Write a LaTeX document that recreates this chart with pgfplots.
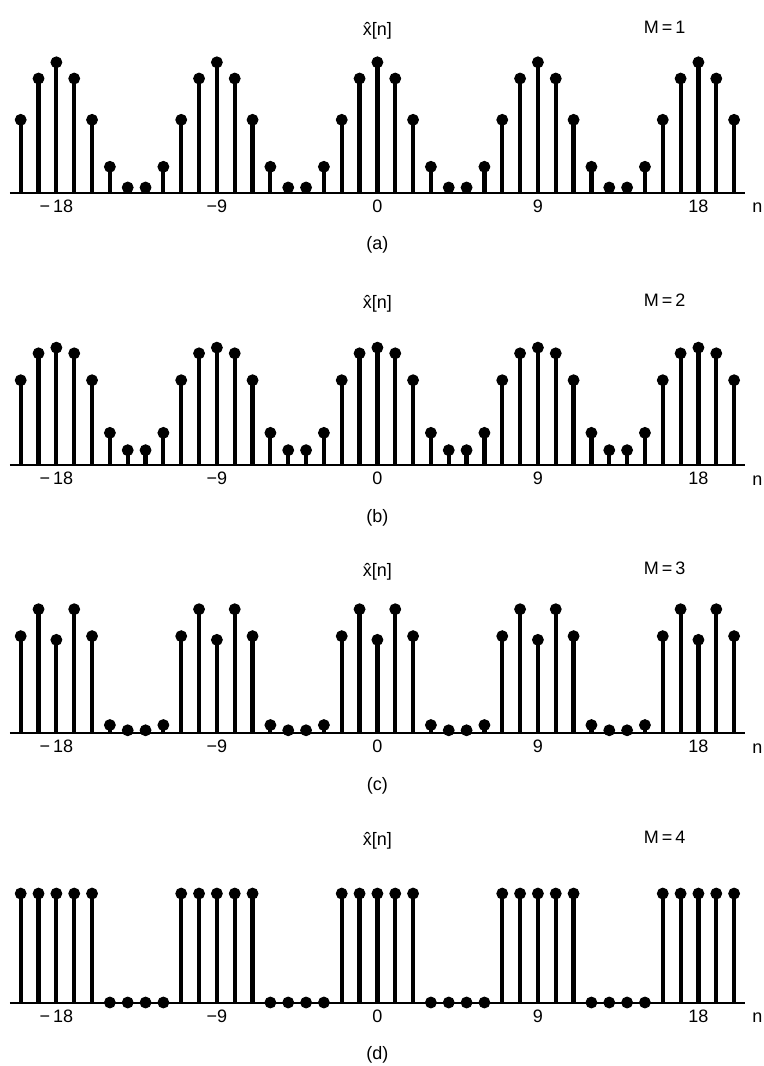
\documentclass[border=0pt]{standalone}
\usepackage{fontspec}
\setmainfont{Liberation Sans}
\usepackage{pgfplots}
\usepackage{pgfplotstable}
\pgfplotsset{compat=1.18}

% n, then xhat[n] for M = 1..4 (periodic, N = 9)
\pgfplotstableread{
n    a      b      c      d
-20  0.667  0.778  0.889  1.000
-19  1.046  1.025  1.136  1.000
-18  1.195  1.077  0.855  1.000
-17  1.046  1.025  1.136  1.000
-16  0.667  0.778  0.889  1.000
-15  0.236  0.295  0.073  0.000
-14  0.046  0.136  0.025  0.000
-13  0.046  0.136  0.025  0.000
-12  0.236  0.295  0.073  0.000
-11  0.667  0.778  0.889  1.000
-10  1.046  1.025  1.136  1.000
-9   1.195  1.077  0.855  1.000
-8   1.046  1.025  1.136  1.000
-7   0.667  0.778  0.889  1.000
-6   0.236  0.295  0.073  0.000
-5   0.046  0.136  0.025  0.000
-4   0.046  0.136  0.025  0.000
-3   0.236  0.295  0.073  0.000
-2   0.667  0.778  0.889  1.000
-1   1.046  1.025  1.136  1.000
0    1.195  1.077  0.855  1.000
1    1.046  1.025  1.136  1.000
2    0.667  0.778  0.889  1.000
3    0.236  0.295  0.073  0.000
4    0.046  0.136  0.025  0.000
5    0.046  0.136  0.025  0.000
6    0.236  0.295  0.073  0.000
7    0.667  0.778  0.889  1.000
8    1.046  1.025  1.136  1.000
9    1.195  1.077  0.855  1.000
10   1.046  1.025  1.136  1.000
11   0.667  0.778  0.889  1.000
12   0.236  0.295  0.073  0.000
13   0.046  0.136  0.025  0.000
14   0.046  0.136  0.025  0.000
15   0.236  0.295  0.073  0.000
16   0.667  0.778  0.889  1.000
17   1.046  1.025  1.136  1.000
18   1.195  1.077  0.855  1.000
19   1.046  1.025  1.136  1.000
20   0.667  0.778  0.889  1.000
}\xdata

\pgfplotsset{
  stemaxis/.style={
    scale only axis,
    width=367.4pt, height=68.1pt,
    xmin=-20.6, xmax=20.6, ymin=0, ymax=1.25,
    axis x line*=bottom, axis y line=none,
    axis line style={line width=1pt},
    xtick={-18,-9,0,9,18},
    xticklabels={−\,18,−9,0,9,18},
    major tick length=0pt,
    ytick=\empty,
    tick label style={font=\fontsize{9}{10}\selectfont},
    clip=false,
  },
  stem/.style={black, ycomb, line width=2.1pt, mark=*, mark size=2.7pt,
    mark options={fill=black, line width=0.5pt}},
}

\newcommand{\panellabels}[2]{%
  \node[anchor=base, font=\fontsize{9}{10}\selectfont] at (axis cs:0,0) [yshift=78.5pt] {x^^^^0302[n]};
  \node[anchor=base, font=\fontsize{9}{10}\selectfont] at (axis cs:16.1,0) [yshift=79.5pt] {M\,=\,#1};
  \node[anchor=base, font=\fontsize{9}{10}\selectfont] at (axis cs:21.3,0) [yshift=-10pt] {n};
  \node[anchor=base, font=\fontsize{9}{10}\selectfont] at (axis cs:0,0) [yshift=-28.5pt] {(#2)};
}

\begin{document}
\begin{tikzpicture}
\useasboundingbox (0,0) rectangle (382pt,-533pt);

\begin{axis}[stemaxis, at={(5pt,-96.25pt)}, anchor=south west]
  \addplot[stem] table[x=n, y=a] {\xdata};
  \panellabels{1}{a}
\end{axis}

\begin{axis}[stemaxis, at={(5pt,-232.5pt)}, anchor=south west]
  \addplot[stem] table[x=n, y=b] {\xdata};
  \panellabels{2}{b}
\end{axis}

\begin{axis}[stemaxis, at={(5pt,-366.5pt)}, anchor=south west]
  \addplot[stem] table[x=n, y=c] {\xdata};
  \panellabels{3}{c}
\end{axis}

\begin{axis}[stemaxis, at={(5pt,-501.25pt)}, anchor=south west]
  \addplot[stem] table[x=n, y=d] {\xdata};
  \panellabels{4}{d}
\end{axis}
\end{tikzpicture}
\end{document}
